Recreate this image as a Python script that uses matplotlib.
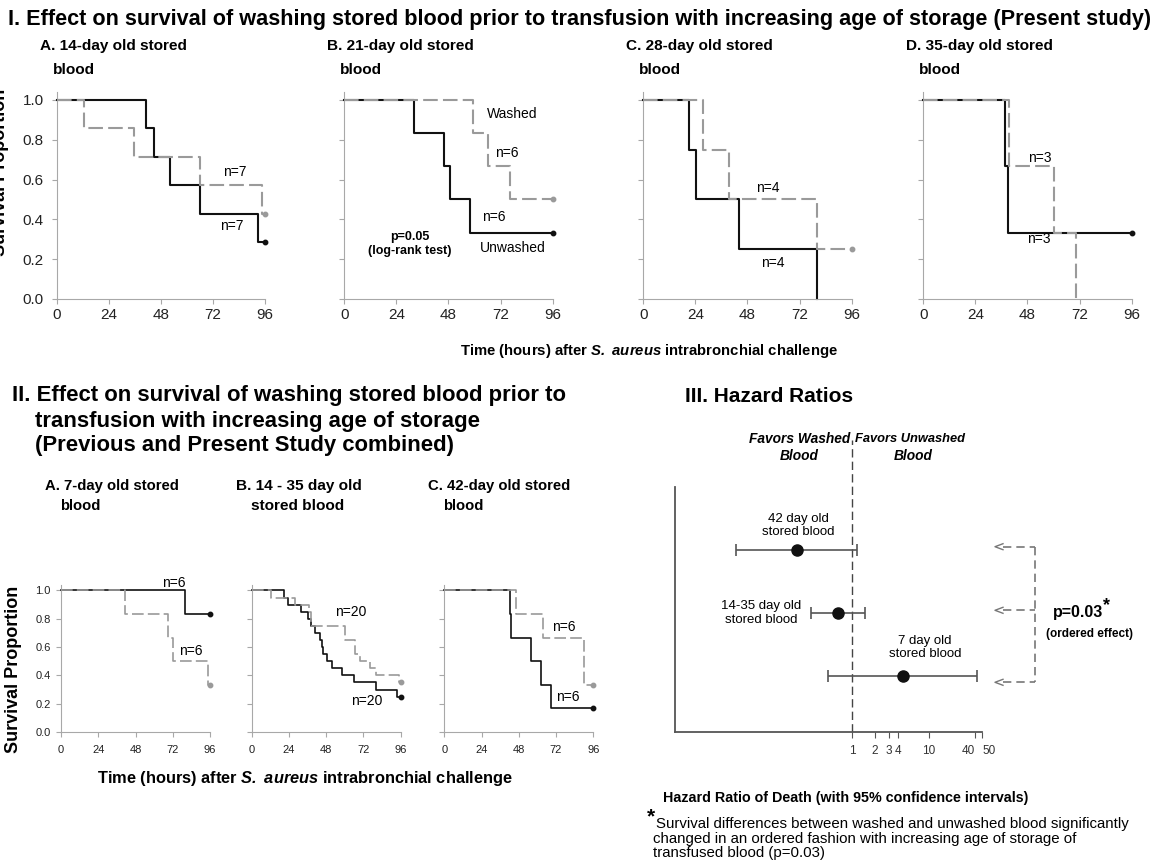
import numpy as np
import matplotlib
matplotlib.use("Agg")
import matplotlib.pyplot as plt
from matplotlib.lines import Line2D

plt.rcParams['font.family'] = ['Liberation Sans', 'DejaVu Sans']
plt.rcParams['mathtext.fontset'] = 'custom'
plt.rcParams['mathtext.bfit'] = 'Liberation Sans:italic:bold'

W, H = 1151, 861
BLACK = '#111111'
GREY = '#9a9a9a'
AXGREY = '#a8a8a8'

###################
## present study ##
###################
# time (hours) of each step, survival proportion after the step
a_unw_t = [0, 41, 45, 52, 66, 93, 96]
a_unw_s = [1.0, 0.857, 0.714, 0.571, 0.429, 0.286, 0.286]
a_w_t = [0, 12.6, 35.8, 66, 94.4, 96]
a_w_s = [1.0, 0.857, 0.714, 0.571, 0.429, 0.429]

b_unw_t = [0, 32.3, 46, 48.9, 58, 96]
b_unw_s = [1.0, 0.833, 0.667, 0.5, 0.333, 0.333]
b_w_t = [0, 59.4, 66.2, 76.3, 96]
b_w_s = [1.0, 0.833, 0.667, 0.5, 0.5]

c_unw_t = [0, 20.9, 24.1, 44.1, 80]
c_unw_s = [1.0, 0.75, 0.5, 0.25, 0.0]
c_w_t = [0, 27.6, 39.3, 80, 96]
c_w_s = [1.0, 0.75, 0.5, 0.25, 0.25]

d_unw_t = [0, 37.6, 38.9, 96]
d_unw_s = [1.0, 0.667, 0.333, 0.333]
d_w_t = [0, 39.3, 60.4, 70.5]
d_w_s = [1.0, 0.667, 0.333, 0.0]

######################
## combined studies ##
######################
e7_unw_t = [0, 80.1, 96]
e7_unw_s = [1.0, 0.833, 0.833]
e7_w_t = [0, 41.5, 69.2, 72, 94.7, 96]
e7_w_s = [1.0, 0.833, 0.667, 0.5, 0.333, 0.333]

e14_unw_t = [0, 20.7, 23.6, 31.6, 36.4, 38.2, 41.0, 43.9, 45.4, 46.0, 48.4, 51.5, 58.0, 66.1, 80.3, 93.6, 96]
e14_unw_s = [1.0, 0.95, 0.90, 0.85, 0.80, 0.75, 0.70, 0.65, 0.60, 0.55, 0.50, 0.45, 0.40, 0.35, 0.30, 0.25, 0.25]
e14_w_t = [0, 12.7, 27.7, 37.1, 38.5, 60.0, 66.5, 70.0, 76.0, 80.0, 95.0, 96]
e14_w_s = [1.0, 0.95, 0.90, 0.85, 0.75, 0.65, 0.55, 0.50, 0.45, 0.40, 0.35, 0.35]

e42_unw_t = [0, 42.3, 43.2, 56, 62, 68.8, 96]
e42_unw_s = [1.0, 0.833, 0.667, 0.5, 0.333, 0.167, 0.167]
e42_w_t = [0, 46, 63.7, 90.2, 96]
e42_w_s = [1.0, 0.833, 0.667, 0.333, 0.333]

###################
## hazard ratios ##
###################
hr_labels = ['42 day old\nstored blood', '14-35 day old\nstored blood', '7 day old\nstored blood']
hr_est = [0.19, 0.66, 4.6]
hr_lo = [0.03, 0.29, 0.48]
hr_hi = [1.16, 1.48, 43]
hr_row = [3, 2, 1]
hr_ticks = [1, 2, 3, 4, 10, 40, 50]

time_ticks = [0, 24, 48, 72, 96]
surv_ticks = [0.0, 0.2, 0.4, 0.6, 0.8, 1.0]


fig = plt.figure(figsize=(W / 100, H / 100), dpi=100)
renderer = fig.canvas.get_renderer()


def fx(x):
    return x / W


def fy(y):
    return 1 - y / H


def add_ax(left, right, top, bottom):
    return fig.add_axes([fx(left), fy(bottom), (right - left) / W, (bottom - top) / H])


def txt(x, y, s, width=None, **kw):
    # text placed in reference pixels; width (px) rescales the font to fit
    kw.setdefault('va', 'center')
    t = fig.text(fx(x), fy(y), s, **kw)
    if width:
        w = t.get_window_extent(renderer).width
        t.set_fontsize(t.get_fontsize() * width / w)
    return t


def curve(ax, t, s, dashed, lw):
    color = GREY if dashed else BLACK
    line, = ax.step(t, s, where='post', color=color, lw=lw, clip_on=False,
                    zorder=3 if dashed else 2)
    if dashed:
        line.set_dashes((7, 2.5))
    if s[-1] > 0:
        ax.plot(t[-1], s[-1], 'o', color=color, ms=3.2, clip_on=False, zorder=4)


def km_panel(rect, unw, wsh, show_y, big=True):
    ax = add_ax(*rect)
    lw = 1.5 if big else 1.2
    curve(ax, unw[0], unw[1], False, lw)
    curve(ax, wsh[0], wsh[1], True, lw)
    ax.set_xlim(0, 96)
    ax.set_ylim(0, 1.04)
    ax.set_xticks(time_ticks)
    ax.set_yticks(surv_ticks)
    for sp in ['top', 'right']:
        ax.spines[sp].set_visible(False)
    for sp in ['left', 'bottom']:
        ax.spines[sp].set_color(AXGREY)
    size = 11 if big else 8
    ax.tick_params(colors=AXGREY, labelcolor='#222222', labelsize=size, length=3.5)
    ax.tick_params(axis='x', pad=3 if big else 6)
    ax.tick_params(axis='y', pad=6 if big else 4)
    if show_y:
        ax.set_yticklabels(['%.1f' % v for v in surv_ticks])
    else:
        ax.set_yticklabels([])
    return ax


def note(ax, x, y, s, **kw):
    ax.text(x, y, s, fontsize=10, ha='center', va='center', **kw)


TIME_LABEL = r'Time (hours) after $\mathbfit{S.}$ $\mathbfit{aureus}$ intrabronchial challenge'

# ---- section I ----
txt(8, 19, 'I. Effect on survival of washing stored blood prior to transfusion with increasing age of storage (Present study)',
    width=1135, weight='bold', fontsize=16)

top_left = [56.7, 344.3, 643.3, 923.3]
top_titles = ['A. 14-day old stored', 'B. 21-day old stored', 'C. 28-day old stored', 'D. 35-day old stored']
top_data = [((a_unw_t, a_unw_s), (a_w_t, a_w_s)), ((b_unw_t, b_unw_s), (b_w_t, b_w_s)),
            ((c_unw_t, c_unw_s), (c_w_t, c_w_s)), ((d_unw_t, d_unw_s), (d_w_t, d_w_s))]
top_axes = []
for i, (left, title, (unw, wsh)) in enumerate(zip(top_left, top_titles, top_data)):
    ax = km_panel((left, left + 208.3, 92, 299), unw, wsh, show_y=(i == 0))
    top_axes.append(ax)
    t = txt(left - 17, 46, title, width=146, weight='bold', fontsize=12)
    txt(left - 4, 70, 'blood', weight='bold', fontsize=t.get_fontsize())

txt(1, 172, 'Survival Proportion', rotation=90, ha='center', weight='bold', fontsize=13)

ax = top_axes[0]
note(ax, 82, 0.64, 'n=7')
note(ax, 80.6, 0.365, 'n=7')
ax = top_axes[1]
note(ax, 77.5, 0.93, 'Washed')
note(ax, 75, 0.735, 'n=6')
note(ax, 69, 0.41, 'n=6')
note(ax, 77.5, 0.255, 'Unwashed')
ax.text(30, 0.275, 'p=0.05\n(log-rank test)', fontsize=9, weight='bold', ha='center', va='center',
        linespacing=1.2)
ax = top_axes[2]
note(ax, 57.3, 0.56, 'n=4')
note(ax, 59.6, 0.18, 'n=4')
ax = top_axes[3]
note(ax, 53.5, 0.71, 'n=3')
note(ax, 53, 0.30, 'n=3')

txt(649, 351, TIME_LABEL, width=377, weight='bold', fontsize=11, ha='center')

# ---- section II ----
t = txt(12, 396, 'II. Effect on survival of washing stored blood prior to', width=553, weight='bold', fontsize=16)
txt(35, 421, 'transfusion with increasing age of storage', weight='bold', fontsize=t.get_fontsize())
txt(35, 446, '(Previous and Present Study combined)', weight='bold', fontsize=t.get_fontsize())

bot_left = [61, 251.7, 444.3]
bot_titles = [('A. 7-day old stored', 'blood', 133), ('B. 14 - 35 day old', 'stored blood', 125),
              ('C. 42-day old stored', 'blood', 142)]
bot_data = [((e7_unw_t, e7_unw_s), (e7_w_t, e7_w_s)), ((e14_unw_t, e14_unw_s), (e14_w_t, e14_w_s)),
            ((e42_unw_t, e42_unw_s), (e42_w_t, e42_w_s))]
bot_axes = []
for i, (left, (l1, l2, wd), (unw, wsh)) in enumerate(zip(bot_left, bot_titles, bot_data)):
    ax = km_panel((left, left + 149, 584.8, 732), unw, wsh, show_y=(i == 0), big=False)
    bot_axes.append(ax)
    t = txt(left - 16, 486, l1, width=wd, weight='bold', fontsize=12)
    txt(left - 1, 506, l2, weight='bold', fontsize=t.get_fontsize())

txt(14, 669, 'Survival Proportion', rotation=90, ha='center', weight='bold', fontsize=13)

ax = bot_axes[0]
note(ax, 72.4, 1.05, 'n=6')
note(ax, 83.8, 0.575, 'n=6')
ax = bot_axes[1]
note(ax, 63.7, 0.85, 'n=20')
note(ax, 74, 0.22, 'n=20')
ax = bot_axes[2]
note(ax, 77, 0.74, 'n=6')
note(ax, 79.6, 0.246, 'n=6')

txt(305, 779, TIME_LABEL, width=415, weight='bold', fontsize=11, ha='center')

# ---- section III ----
txt(685, 396, 'III. Hazard Ratios', width=168, weight='bold', fontsize=16)

hx = add_ax(675, 982, 487, 732)
hx.set_xscale('log')
hx.set_xlim(0.0048, 50)
hx.set_ylim(0.11, 4.0)
hx.errorbar(hr_est, hr_row, xerr=[np.array(hr_est) - np.array(hr_lo), np.array(hr_hi) - np.array(hr_est)],
            fmt='o', color=BLACK, ecolor='#555555', elinewidth=1.2, capsize=4, capthick=1.2,
            ms=8, clip_on=False, zorder=3)
hx.plot([1, 1], [0.11, 4.75], color='#444444', lw=1, dashes=(6, 3), clip_on=False, zorder=1)
hx.set_xticks(hr_ticks)
hx.set_xticklabels([str(v) for v in hr_ticks])
hx.minorticks_off()
hx.set_yticks([])
for sp in ['top', 'right']:
    hx.spines[sp].set_visible(False)
for sp in ['left', 'bottom']:
    hx.spines[sp].set_color('#555555')
    hx.spines[sp].set_linewidth(1.3)
hx.tick_params(axis='x', colors='#555555', labelcolor='#333333', labelsize=8.5, length=4, pad=5)
labels = hx.get_xticklabels()
labels[-2].set_ha('right')
labels[-1].set_ha('left')

hr_text_pos = [(0.196, 3.39), (0.065, 2.0), (9.0, 1.45)]
for lab, (x, y) in zip(hr_labels, hr_text_pos):
    hx.text(x, y, lab, fontsize=9.5, ha='center', va='center', linespacing=1.15)

t = txt(850, 439, 'Favors Washed', width=102, weight='bold', style='italic', fontsize=11.5, ha='right')
txt(799, 456, 'Blood', weight='bold', style='italic', fontsize=t.get_fontsize(), ha='center')
txt(855, 439, 'Favors Unwashed', width=110, weight='bold', style='italic', fontsize=11.5, ha='left')
txt(913, 456, 'Blood', weight='bold', style='italic', fontsize=t.get_fontsize(), ha='center')

# ordered-effect bracket
for y in [546.7, 610.3, 682.3]:
    fig.add_artist(Line2D([fx(1003), fx(1035)], [fy(y), fy(y)], color='#777777', lw=1.2, dashes=(5, 3)))
    fig.add_artist(Line2D([fx(1003), fx(995), fx(1003)], [fy(y - 3), fy(y), fy(y + 3)],
                          color='#777777', lw=1))
fig.add_artist(Line2D([fx(1035), fx(1035)], [fy(546.7), fy(682.3)], color='#777777', lw=1.2, dashes=(5, 3)))
txt(1078, 613, 'p=0.03', weight='bold', fontsize=11.5, ha='center')
txt(1103, 606, '*', weight='bold', fontsize=13, ha='left')
txt(1089, 634, '(ordered effect)', weight='bold', fontsize=8.5, ha='center')

txt(663, 798, 'Hazard Ratio of Death (with 95% confidence intervals)', width=365, weight='bold', fontsize=10.5)
txt(647, 817, '*', weight='bold', fontsize=15)
t = txt(656, 824, 'Survival differences between washed and unwashed blood significantly', width=478, fontsize=10.5)
txt(653, 839, 'changed in an ordered fashion with increasing age of storage of', fontsize=t.get_fontsize())
txt(653, 853, 'transfused blood (p=0.03)', fontsize=t.get_fontsize())

fig.savefig('out.png', dpi=100)
